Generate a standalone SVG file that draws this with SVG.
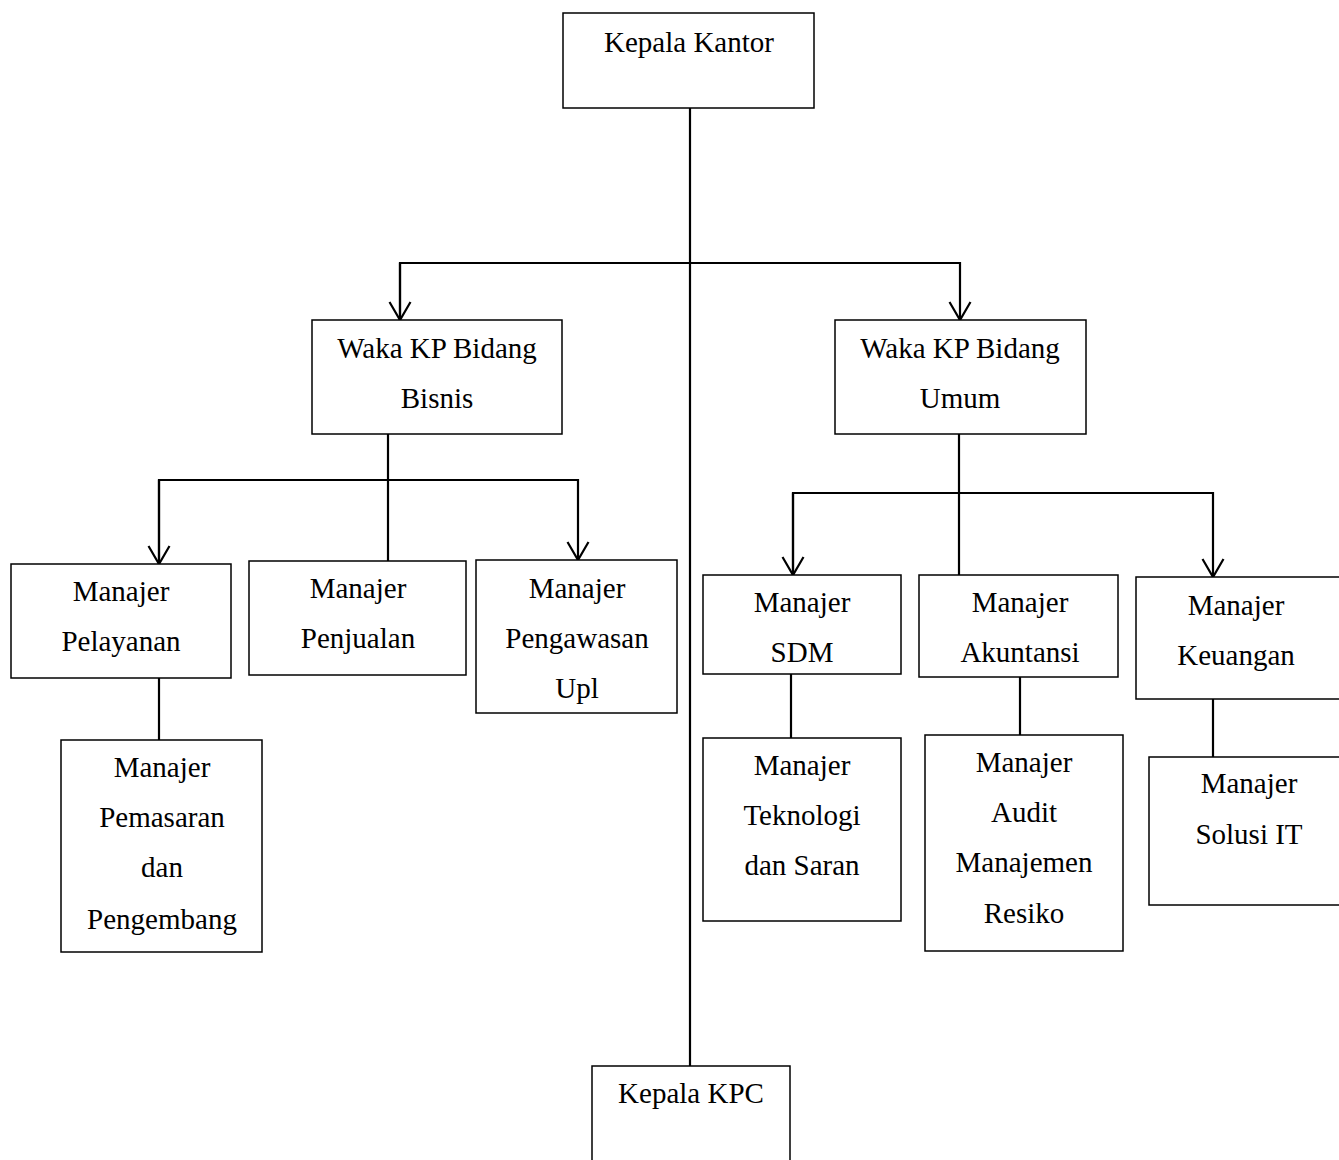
<svg xmlns="http://www.w3.org/2000/svg" width="1339" height="1160" viewBox="0 0 1339 1160">
<style>
.box{fill:#fff;stroke:#000;stroke-width:1.5}
.t{font-family:"Liberation Serif","Times New Roman",serif;font-size:29px;fill:#000;text-anchor:middle}
.c{fill:none;stroke:#000;stroke-width:2.2}
</style>
<defs>
<marker id="arr" viewBox="0 0 22 24" markerUnits="userSpaceOnUse" markerWidth="22" markerHeight="24" refX="19" refY="12" orient="auto">
<path d="M1,1.5 L19,12 L1,22.5" fill="none" stroke="#000" stroke-width="2.2"/>
</marker>
</defs>
<rect width="1339" height="1160" fill="#fff"/>
<g id="connectors">
<line class="c" x1="690" y1="108" x2="690" y2="1066"/>
<polyline class="c" points="400,320 400,263 960,263 960,320" marker-end="url(#arr)"/>
<line class="c" x1="400" y1="263" x2="400" y2="320" marker-end="url(#arr)"/>
<line class="c" x1="388" y1="434" x2="388" y2="561"/>
<polyline class="c" points="159,564 159,480 578,480 578,560" marker-end="url(#arr)"/>
<line class="c" x1="159" y1="480" x2="159" y2="564" marker-end="url(#arr)"/>
<line class="c" x1="959" y1="434" x2="959" y2="575"/>
<polyline class="c" points="793,575 793,493 1213,493 1213,577" marker-end="url(#arr)"/>
<line class="c" x1="793" y1="493" x2="793" y2="575" marker-end="url(#arr)"/>
<line class="c" x1="159" y1="678" x2="159" y2="740"/>
<line class="c" x1="791" y1="674" x2="791" y2="738"/>
<line class="c" x1="1020" y1="677" x2="1020" y2="735"/>
<line class="c" x1="1213" y1="699" x2="1213" y2="757"/>
</g>
<g id="kepala-kantor">
<rect class="box" x="563" y="13" width="251" height="95"/>
<text class="t" x="689" y="52">Kepala Kantor</text>
</g>
<g id="waka-bisnis">
<rect class="box" x="312" y="320" width="250" height="114"/>
<text class="t" x="437" y="358">Waka KP Bidang</text>
<text class="t" x="437" y="408">Bisnis</text>
</g>
<g id="waka-umum">
<rect class="box" x="835" y="320" width="251" height="114"/>
<text class="t" x="960" y="358">Waka KP Bidang</text>
<text class="t" x="960" y="408">Umum</text>
</g>
<g id="manajer-pelayanan">
<rect class="box" x="11" y="564" width="220" height="114"/>
<text class="t" x="121" y="601">Manajer</text>
<text class="t" x="121" y="651">Pelayanan</text>
</g>
<g id="manajer-penjualan">
<rect class="box" x="249" y="561" width="217" height="114"/>
<text class="t" x="358" y="598">Manajer</text>
<text class="t" x="358" y="648">Penjualan</text>
</g>
<g id="manajer-pengawasan">
<rect class="box" x="476" y="560" width="201" height="153"/>
<text class="t" x="577" y="598">Manajer</text>
<text class="t" x="577" y="648">Pengawasan</text>
<text class="t" x="577" y="698">Upl</text>
</g>
<g id="manajer-pemasaran">
<rect class="box" x="61" y="740" width="201" height="212"/>
<text class="t" x="162" y="777">Manajer</text>
<text class="t" x="162" y="827">Pemasaran</text>
<text class="t" x="162" y="877">dan</text>
<text class="t" x="162" y="929">Pengembang</text>
</g>
<g id="manajer-sdm">
<rect class="box" x="703" y="575" width="198" height="99"/>
<text class="t" x="802" y="612">Manajer</text>
<text class="t" x="802" y="662">SDM</text>
</g>
<g id="manajer-akuntansi">
<rect class="box" x="919" y="575" width="199" height="102"/>
<text class="t" x="1020" y="612">Manajer</text>
<text class="t" x="1020" y="662">Akuntansi</text>
</g>
<g id="manajer-keuangan">
<rect class="box" x="1136" y="577" width="210" height="122"/>
<text class="t" x="1236" y="615">Manajer</text>
<text class="t" x="1236" y="665">Keuangan</text>
</g>
<g id="manajer-teknologi">
<rect class="box" x="703" y="738" width="198" height="183"/>
<text class="t" x="802" y="775">Manajer</text>
<text class="t" x="802" y="825">Teknologi</text>
<text class="t" x="802" y="875">dan Saran</text>
</g>
<g id="manajer-audit">
<rect class="box" x="925" y="735" width="198" height="216"/>
<text class="t" x="1024" y="772">Manajer</text>
<text class="t" x="1024" y="822">Audit</text>
<text class="t" x="1024" y="872">Manajemen</text>
<text class="t" x="1024" y="923">Resiko</text>
</g>
<g id="manajer-solusi">
<rect class="box" x="1149" y="757" width="200" height="148"/>
<text class="t" x="1249" y="793">Manajer</text>
<text class="t" x="1249" y="844">Solusi IT</text>
</g>
<g id="kepala-kpc">
<rect class="box" x="592" y="1066" width="198" height="110"/>
<text class="t" x="691" y="1103">Kepala KPC</text>
</g>
</svg>
